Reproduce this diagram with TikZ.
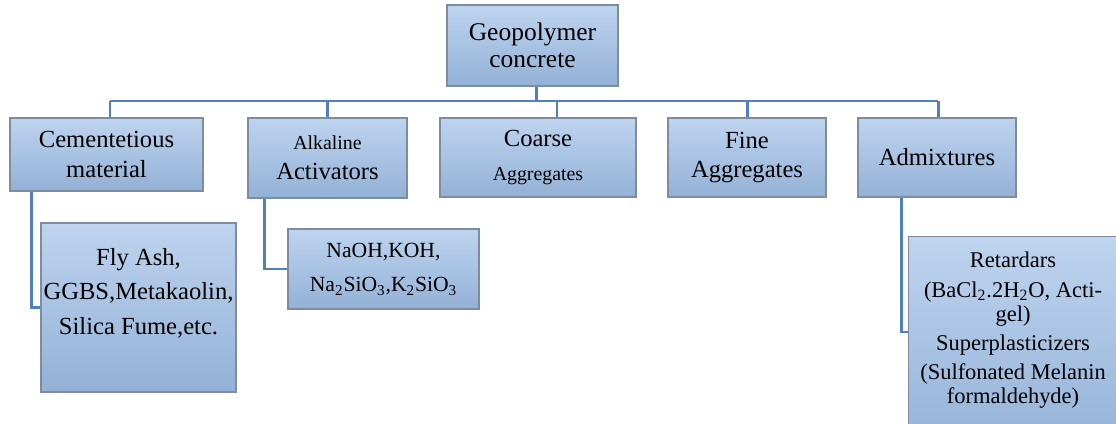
\documentclass[tikz,border=0pt]{standalone}
\usepackage{fontspec}
\setmainfont{Liberation Serif}
\usetikzlibrary{positioning}
\definecolor{boxtop}{HTML}{BED4EF}
\definecolor{boxbot}{HTML}{93B1D6}
\definecolor{boxline}{HTML}{7F8CA0}
\definecolor{linkblue}{HTML}{4F81BD}
\newcommand{\pu}{0.02cm}
\newcommand{\bigtxt}{\fontsize{14}{17}\selectfont}
\newcommand{\smalltxt}{\fontsize{11.3}{14}\selectfont}
\tikzset{
  blockbox/.style={draw=boxline, line width=0.8pt, top color=boxtop, bottom color=boxbot,
    align=center, inner sep=0pt, font=\bigtxt},
  link/.style={draw=linkblue, line width=1.7pt},
}

\begin{document}
\begin{tikzpicture}[x=0.02cm, y=-0.02cm]
\useasboundingbox (0,0) rectangle (1116,423);
\clip (0,0) rectangle (1116,423);
%top level
\node[blockbox, minimum width=171*\pu, minimum height=81*\pu, font=\fontsize{14.5}{15.5}\selectfont]
  (root) at (532.5,45.5) {Geopolymer\\concrete};
%second level
\node[blockbox, minimum width=193*\pu, minimum height=73*\pu] (cement) at (106.5,154.5)
  {Cementetious\\material};
\node[blockbox, minimum width=159*\pu, minimum height=80*\pu] (alkaline) at (327.5,158)
  {{\smalltxt Alkaline}\\Activators};
\node[blockbox, minimum width=196*\pu, minimum height=79*\pu] (coarse) at (538,157.5)
  {Coarse\\[2pt]{\smalltxt Aggregates}};
\node[blockbox, minimum width=158*\pu, minimum height=79*\pu] (fine) at (747,157.5)
  {Fine\\Aggregates};
\node[blockbox, minimum width=158*\pu, minimum height=79*\pu] (admix) at (937,157.5)
  {Admixtures};
%third level
\node[blockbox, minimum width=195*\pu, minimum height=169*\pu] (flyash) at (138.5,307.5) {};
\node[align=center, inner sep=0pt, font=\fontsize{14}{19.6}\selectfont] (flyashtxt) at (138.5,293)
  {Fly Ash,\\GGBS,Metakaolin,\\Silica Fume,etc.};
\node[blockbox, minimum width=191*\pu, minimum height=80*\pu, font=\fontsize{12.3}{19.8}\selectfont]
  (naoh) at (383.5,269)
  {NaOH,KOH,\\Na\textsubscript{2}SiO\textsubscript{3},K\textsubscript{2}SiO\textsubscript{3}};
\node[blockbox, anchor=north west, minimum width=216*\pu, minimum height=220*\pu] (retard) at (908,236) {};
\node[align=center, inner sep=0pt, anchor=north, font=\fontsize{12.8}{13.6}\selectfont] (retardtxt) at (1013,252)
  {Retardars\\[3pt]
   (BaCl\textsubscript{2}.2H\textsubscript{2}O, Acti-\\gel)\\[3pt]
   Superplasticizers\\[3pt]
   (Sulfonated Melanin\\formaldehyde)};
%connectors
\coordinate (busL) at (110,101);
\coordinate (busR) at (938,101);
\draw[link] ([xshift=4*\pu]root.south) -- ([xshift=4*\pu]root.south |- busL);
\draw[link] (busL) -- (busR);
\draw[link] (busL) -- (busL |- cement.north);
\draw[link] (alkaline.north) -- (alkaline.north |- busL);
\draw[link] ([xshift=19*\pu]coarse.north) -- ([xshift=19*\pu]coarse.north |- busL);
\draw[link] (fine.north) -- (fine.north |- busL);
\draw[link] (busR) -- (busR |- admix.north);
\draw[link] ([xshift=22*\pu]cement.south west) |- (flyash.west);
\draw[link] ([xshift=17*\pu]alkaline.south west) |- (naoh.west);
\draw[link] ([xshift=44*\pu]admix.south west) |- ([yshift=-96*\pu]retard.north west);
\end{tikzpicture}
\end{document}
